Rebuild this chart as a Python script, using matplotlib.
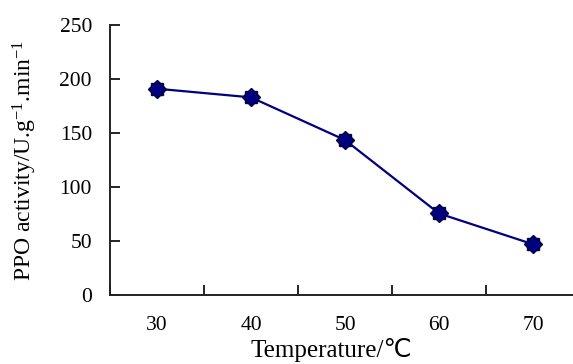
import numpy as np
import matplotlib.pyplot as plt

# data
temps = ['30', '40', '50', '60', '70']
activity = [191, 183, 143.5, 75.5, 47]
y_ticks = [0, 50, 100, 150, 200, 250]

plt.rcParams['font.family'] = ['Liberation Serif', 'DejaVu Sans']
plt.rcParams['mathtext.fontset'] = 'custom'
plt.rcParams['mathtext.rm'] = 'Liberation Serif'
plt.rcParams['mathtext.it'] = 'Liberation Serif'

fig = plt.figure(figsize=(5.73, 3.64), dpi=100)
ax = fig.add_axes([110 / 573, 69 / 364, 470 / 573, 270 / 364])

x = np.arange(1, len(temps) + 1)
navy = '#000080'
ax.plot(x, activity, color=navy, linewidth=1.6, zorder=2)
ax.plot(x, activity, linestyle='none', marker='s', markersize=8,
        color='#0a0a40', zorder=3)
ax.plot(x, activity, linestyle='none', marker='D', markersize=9.5,
        color=navy, markeredgecolor='#00004a', zorder=4)

ax.set_xlim(0.5, len(temps) + 0.5)
ax.set_ylim(0, 250)

# category ticks at the boundaries, labels at the centres
ax.set_xticks(np.arange(0.5, len(temps) + 1, 1.0))
ax.set_xticklabels([])
ax.set_xticks(x, minor=True)
ax.set_xticklabels(temps, minor=True)
ax.tick_params(axis='x', which='major', direction='in', length=7, width=1.2)
ax.tick_params(axis='x', which='minor', length=0, pad=15, labelsize=15.5)

ax.set_yticks(y_ticks)
ax.tick_params(axis='y', direction='in', length=7, width=1.2, pad=13, labelsize=15.5)

for side in ['top', 'right']:
    ax.spines[side].set_visible(False)
for side in ['left', 'bottom']:
    ax.spines[side].set_linewidth(1.4)
    ax.spines[side].set_color('#222222')

ax.set_xlabel('Temperature/℃', fontsize=18, labelpad=4)
ax.xaxis.set_label_coords(0.47, -0.16, transform=ax.transAxes)
ax.xaxis.label.set_verticalalignment('top')
ax.set_ylabel('PPO activity/U.g$^{-1}$.min$^{-1}$', fontsize=17, labelpad=15)

fig.savefig('out.png', dpi=100)
